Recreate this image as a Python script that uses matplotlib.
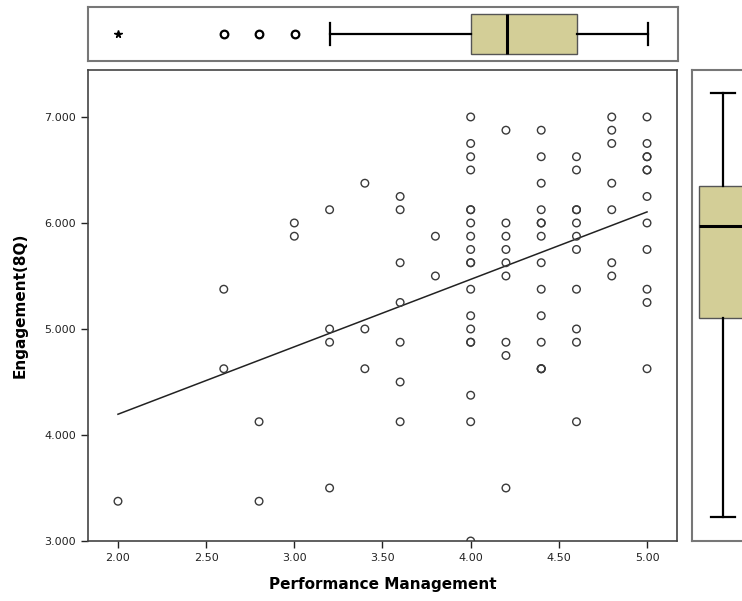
import numpy as np
import matplotlib
matplotlib.use("Agg")
import matplotlib.pyplot as plt

# Performance Management (x) and Engagement(8Q) (y)
x_vals = [2.0,
          2.6, 2.6,
          2.8, 2.8,
          3.0, 3.0,
          3.2, 3.2, 3.2, 3.2,
          3.4, 3.4, 3.4,
          3.6, 3.6, 3.6, 3.6, 3.6, 3.6, 3.6,
          3.8, 3.8,
          4.0, 4.0, 4.0, 4.0, 4.0, 4.0, 4.0, 4.0, 4.0, 4.0, 4.0, 4.0, 4.0, 4.0, 4.0, 4.0, 4.0, 4.0, 4.0,
          4.2, 4.2, 4.2, 4.2, 4.2, 4.2, 4.2, 4.2, 4.2,
          4.4, 4.4, 4.4, 4.4, 4.4, 4.4, 4.4, 4.4, 4.4, 4.4, 4.4, 4.4, 4.4, 4.4,
          4.6, 4.6, 4.6, 4.6, 4.6, 4.6, 4.6, 4.6, 4.6, 4.6, 4.6,
          4.8, 4.8, 4.8, 4.8, 4.8, 4.8, 4.8,
          5.0, 5.0, 5.0, 5.0, 5.0, 5.0, 5.0, 5.0, 5.0, 5.0, 5.0, 5.0]
y_vals = [3.375,
          5.375, 4.625,
          4.125, 3.375,
          6.0, 5.875,
          6.125, 5.0, 4.875, 3.5,
          6.375, 5.0, 4.625,
          6.25, 6.125, 5.625, 5.25, 4.875, 4.5, 4.125,
          5.875, 5.5,
          7.0, 6.75, 6.625, 6.5, 6.125, 6.125, 6.0, 5.875, 5.75, 5.625, 5.625, 5.375, 5.125, 5.0, 4.875, 4.875, 4.375, 4.125, 3.0,
          6.875, 6.0, 5.875, 5.75, 5.625, 5.5, 4.875, 4.75, 3.5,
          6.875, 6.625, 6.375, 6.125, 6.0, 6.0, 5.875, 5.625, 5.375, 5.125, 4.875, 4.625, 4.625, 4.625,
          6.625, 6.5, 6.125, 6.125, 6.0, 5.875, 5.75, 5.375, 5.0, 4.875, 4.125,
          7.0, 6.875, 6.75, 6.375, 6.125, 5.625, 5.5,
          7.0, 6.75, 6.625, 6.625, 6.5, 6.5, 6.25, 6.0, 5.75, 5.375, 5.25, 4.625]
x_ticks = [2.0, 2.5, 3.0, 3.5, 4.0, 4.5, 5.0]
y_ticks = [3.0, 4.0, 5.0, 6.0, 7.0]

x = np.array(x_vals)
y = np.array(y_vals)

box_face = "#d3ce97"
frame_col = "#444444"

fig = plt.figure(figsize=(7.42, 6.01), dpi=100)
W, H = 742.0, 601.0

# main scatter
ax = fig.add_axes([88 / W, (H - 541) / H, 589 / W, 471 / H])
ax.scatter(x, y, s=30, facecolors="none", edgecolors="#3a3a3a", linewidths=1.0, zorder=3)

slope, icpt = np.polyfit(x, y, 1)
xl = np.array([x.min(), x.max()])
ax.plot(xl, icpt + slope * xl, color="#222222", lw=1.1, zorder=2)

ax.set_xlim(1.83, 5.17)
ax.set_ylim(3.0, 7.443)
ax.set_xticks(x_ticks)
ax.set_xticklabels(["%.2f" % t for t in x_ticks])
ax.set_yticks(y_ticks)
ax.set_yticklabels(["%.3f" % t for t in y_ticks])
ax.tick_params(direction="out", length=5, width=1, labelsize=8, colors="#222222")
for s in ax.spines.values():
    s.set_color(frame_col)
    s.set_linewidth(1.2)
ax.set_xlabel("Performance Management", fontsize=11, fontweight="bold", labelpad=10)
ax.set_ylabel("Engagement(8Q)", fontsize=11, fontweight="bold", labelpad=12)


def draw_box(axb, data, horizontal, width, capw):
    q1, med, q3 = np.percentile(data, [25, 50, 75])
    iqr = q3 - q1
    lo_f, hi_f = q1 - 1.5 * iqr, q3 + 1.5 * iqr
    inside = data[(data >= lo_f) & (data <= hi_f)]
    stats = [dict(med=med, q1=q1, q3=q3, whislo=inside.min(), whishi=inside.max(), fliers=[])]
    axb.bxp(stats, positions=[0], widths=width, orientation="horizontal" if horizontal else "vertical",
            showfliers=False, patch_artist=True,
            boxprops=dict(facecolor=box_face, edgecolor="#555555", linewidth=1.0),
            medianprops=dict(color="black", linewidth=2.2),
            whiskerprops=dict(color="black", linewidth=1.6),
            capprops=dict(color="black", linewidth=1.6), capwidths=capw)
    vals = np.unique(data)
    mild = vals[((vals < lo_f) & (vals >= q1 - 3 * iqr)) | ((vals > hi_f) & (vals <= q3 + 3 * iqr))]
    ext = vals[(vals < q1 - 3 * iqr) | (vals > q3 + 3 * iqr)]
    zm, ze = np.zeros(len(mild)), np.zeros(len(ext))
    if horizontal:
        axb.plot(mild, zm, "o", ms=5.5, mfc="none", mec="black", mew=1.6)
        axb.plot(ext, ze, "*", ms=5.5, color="black")
    else:
        axb.plot(zm, mild, "o", ms=5.5, mfc="none", mec="black", mew=1.6)
        axb.plot(ze, ext, "*", ms=5.5, color="black")
    axb.set_xticks([])
    axb.set_yticks([])
    for s in axb.spines.values():
        s.set_color("#777777")
        s.set_linewidth(1.5)


# top boxplot (Performance Management)
axt = fig.add_axes([88 / W, (H - 61) / H, 590 / W, 54 / H])
draw_box(axt, x, True, 0.78, 0.44)
axt.set_xlim(ax.get_xlim())
axt.set_ylim(-0.52, 0.52)

# right boxplot (Engagement)
axr = fig.add_axes([692 / W, (H - 541) / H, 62 / W, 471 / H])
draw_box(axr, y, False, 1.58, 0.78)
axr.set_xlim(-1.0, 1.0)
axr.set_ylim(2.77, 7.22)
axr.set_xticks([])
axr.set_yticks([])

fig.savefig("out.png", dpi=100)
